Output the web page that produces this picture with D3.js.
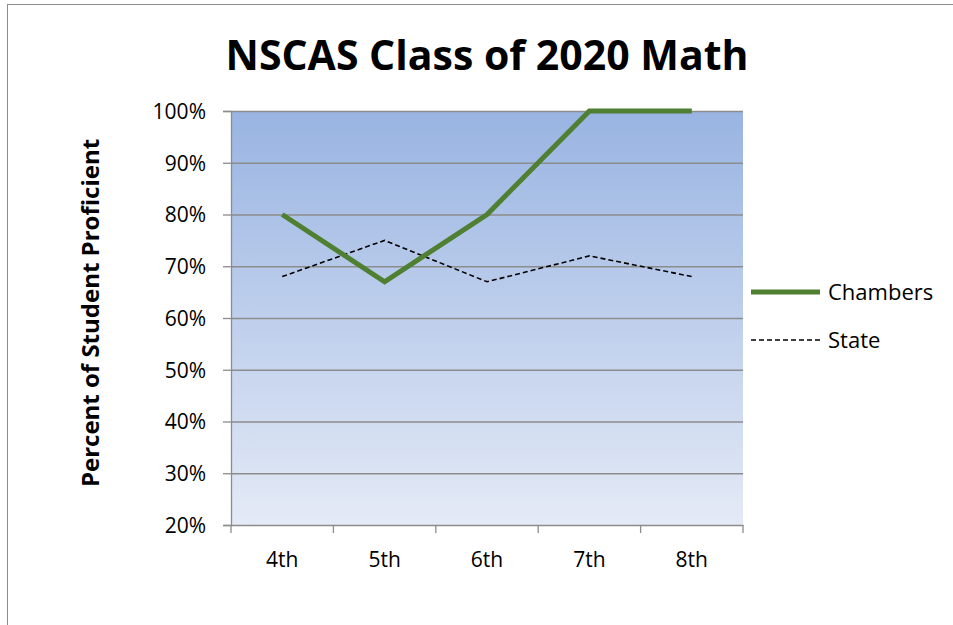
<!DOCTYPE html>
<html>
<head>
<meta charset="utf-8">
<title>NSCAS Class of 2020 Math</title>
<script src="https://cdnjs.cloudflare.com/ajax/libs/d3/7.8.5/d3.min.js"></script>
<style>
  body { margin: 0; background: #fff; }
  text { font-family: "Open Sans", "Liberation Sans", sans-serif; fill: #000; }
</style>
</head>
<body>
<div id="chart"></div>
<script>
// data
var grades = ["4th", "5th", "6th", "7th", "8th"];
var chambers = [80, 67, 80, 100, 100];
var state = [68, 75, 67, 72, 68];
var yTicks = [20, 30, 40, 50, 60, 70, 80, 90, 100];

var w = 953, h = 625;
var plotL = 231, plotR = 743, plotT = 111, plotB = 525;

var svg = d3.select("#chart").append("svg")
  .attr("width", w)
  .attr("height", h);

// chart border
svg.append("rect")
  .attr("x", 7.5).attr("y", 4.5)
  .attr("width", w).attr("height", h)
  .attr("fill", "#fff")
  .attr("stroke", "#8c8c8c");

var defs = svg.append("defs");
var grad = defs.append("linearGradient")
  .attr("id", "bg").attr("x1", 0).attr("y1", 0).attr("x2", 0).attr("y2", 1);
grad.append("stop").attr("offset", "0%").attr("stop-color", "#99b4e2");
grad.append("stop").attr("offset", "100%").attr("stop-color", "#e4eaf6");

var x = d3.scaleBand().domain(grades).range([plotL, plotR]);
var y = d3.scaleLinear().domain([20, 100]).range([plotB, plotT]);

svg.append("rect")
  .attr("x", plotL).attr("y", plotT)
  .attr("width", plotR - plotL).attr("height", plotB - plotT)
  .attr("fill", "url(#bg)");

// gridlines
svg.append("g").selectAll("line")
  .data(yTicks.slice(1))
  .enter().append("line")
  .attr("x1", plotL).attr("x2", plotR)
  .attr("y1", d => y(d) + 0.5).attr("y2", d => y(d) + 0.5)
  .attr("stroke", "#8c8c8c").attr("stroke-width", 1.3);

// y axis
var yAxis = svg.append("g")
  .attr("transform", "translate(" + plotL + ",0)")
  .call(d3.axisLeft(y).tickValues(yTicks).tickSize(8).tickPadding(17)
    .tickFormat(d => d + "%"));
yAxis.select(".domain").attr("stroke", "#8c8c8c").attr("stroke-width", 1.3);
yAxis.selectAll(".tick line").attr("stroke", "#8c8c8c").attr("stroke-width", 1.3);
yAxis.selectAll("text").style("font-size", "21px").attr("dy", "0.35em");

// x axis
var xAxis = svg.append("g")
  .attr("transform", "translate(0," + plotB + ")")
  .call(d3.axisBottom(x).tickSize(0).tickPadding(27));
xAxis.select(".domain").attr("stroke", "#8c8c8c").attr("stroke-width", 1.3);
xAxis.selectAll("text").style("font-size", "21px");
xAxis.selectAll(".sep")
  .data(d3.range(grades.length + 1))
  .enter().append("line")
  .attr("x1", i => plotL + i * x.step()).attr("x2", i => plotL + i * x.step())
  .attr("y1", 0).attr("y2", 8)
  .attr("stroke", "#8c8c8c").attr("stroke-width", 1.3);

var line = d3.line()
  .x((d, i) => x(grades[i]) + x.bandwidth() / 2)
  .y(d => y(d));

svg.append("path")
  .datum(state)
  .attr("d", line)
  .attr("fill", "none")
  .attr("stroke", "#000")
  .attr("stroke-width", 1.6)
  .attr("stroke-dasharray", "5,3");

svg.append("path")
  .datum(chambers)
  .attr("d", line)
  .attr("fill", "none")
  .attr("stroke", "#4f7f31")
  .attr("stroke-width", 5);

// title
svg.append("text")
  .attr("x", 487).attr("y", 70)
  .attr("text-anchor", "middle")
  .style("font-size", "41px")
  .style("font-weight", "bold")
  .text("NSCAS Class of 2020 Math");

// y axis title
svg.append("text")
  .attr("transform", "translate(99,313) rotate(-90)")
  .attr("text-anchor", "middle")
  .style("font-size", "24px")
  .style("font-weight", "bold")
  .text("Percent of Student Proficient");

// legend
var legend = [
  { name: "Chambers", color: "#4f7f31", width: 5, dash: null, y: 292 },
  { name: "State", color: "#000", width: 1.6, dash: "5,3", y: 340 }
];
var lg = svg.append("g").selectAll("g").data(legend).enter().append("g");
lg.append("line")
  .attr("x1", 751).attr("x2", 820)
  .attr("y1", d => d.y).attr("y2", d => d.y)
  .attr("stroke", d => d.color)
  .attr("stroke-width", d => d.width)
  .attr("stroke-dasharray", d => d.dash);
lg.append("text")
  .attr("x", 828).attr("y", d => d.y)
  .attr("dy", "0.35em")
  .style("font-size", "22px")
  .text(d => d.name);
</script>
</body>
</html>
